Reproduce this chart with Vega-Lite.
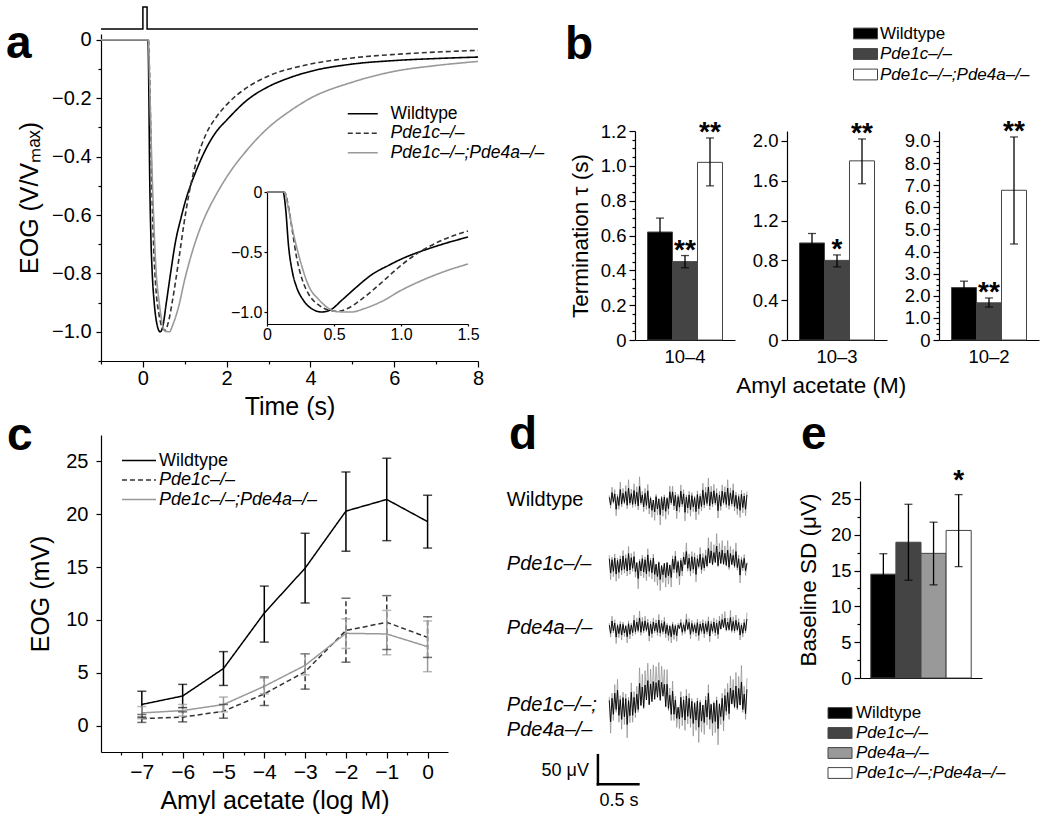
{
"$schema": "https://vega.github.io/schema/vega-lite/v6.json",
"padding": {"left": 6, "top": 4, "right": 5, "bottom": 5},
"background": "white",
"config": {
  "font": "Liberation Sans",
  "view": {"stroke": null},
  "axis": {"grid": false, "domainColor": "#000", "domainWidth": 1.2, "tickColor": "#000", "tickWidth": 1.2, "labelColor": "#000", "titleColor": "#000", "titleFontWeight": "normal", "labelFont": "Liberation Sans", "titleFont": "Liberation Sans", "labelOverlap": false, "labelFlush": false},
  "legend": {"labelFont": "Liberation Sans", "labelColor": "#000"},
  "title": {"anchor": "start", "frame": "group", "fontSize": 46, "fontWeight": "bold", "font": "Liberation Sans", "baseline": "alphabetic", "offset": 0, "color": "#000"},
  "text": {"font": "Liberation Sans", "color": "#000"}
},
"datasets": {
  "eog": [
    {"g":"Wildtype","t":-1,"v":0},{"g":"Wildtype","t":0,"v":0},{"g":"Wildtype","t":0.12,"v":0},{"g":"Wildtype","t":0.14,"v":-0.15},{"g":"Wildtype","t":0.16,"v":-0.44},{"g":"Wildtype","t":0.19,"v":-0.67},{"g":"Wildtype","t":0.22,"v":-0.79},{"g":"Wildtype","t":0.27,"v":-0.9},{"g":"Wildtype","t":0.33,"v":-0.97},{"g":"Wildtype","t":0.41,"v":-1.0},{"g":"Wildtype","t":0.47,"v":-0.985},{"g":"Wildtype","t":0.56,"v":-0.9},{"g":"Wildtype","t":0.66,"v":-0.8},{"g":"Wildtype","t":0.78,"v":-0.69},{"g":"Wildtype","t":0.91,"v":-0.61},{"g":"Wildtype","t":1.03,"v":-0.545},{"g":"Wildtype","t":1.16,"v":-0.49},{"g":"Wildtype","t":1.31,"v":-0.435},{"g":"Wildtype","t":1.5,"v":-0.375},{"g":"Wildtype","t":1.75,"v":-0.315},{"g":"Wildtype","t":2,"v":-0.275},{"g":"Wildtype","t":2.5,"v":-0.205},{"g":"Wildtype","t":3,"v":-0.16},{"g":"Wildtype","t":3.5,"v":-0.13},{"g":"Wildtype","t":4,"v":-0.108},{"g":"Wildtype","t":5,"v":-0.083},{"g":"Wildtype","t":6,"v":-0.071},{"g":"Wildtype","t":7,"v":-0.064},{"g":"Wildtype","t":8,"v":-0.059},
    {"g":"Pde1c–/–","t":-1,"v":0},{"g":"Pde1c–/–","t":0,"v":0},{"g":"Pde1c–/–","t":0.13,"v":0},{"g":"Pde1c–/–","t":0.16,"v":-0.12},{"g":"Pde1c–/–","t":0.19,"v":-0.33},{"g":"Pde1c–/–","t":0.22,"v":-0.54},{"g":"Pde1c–/–","t":0.26,"v":-0.72},{"g":"Pde1c–/–","t":0.31,"v":-0.85},{"g":"Pde1c–/–","t":0.39,"v":-0.945},{"g":"Pde1c–/–","t":0.46,"v":-0.985},{"g":"Pde1c–/–","t":0.53,"v":-0.995},{"g":"Pde1c–/–","t":0.61,"v":-0.966},{"g":"Pde1c–/–","t":0.71,"v":-0.89},{"g":"Pde1c–/–","t":0.86,"v":-0.75},{"g":"Pde1c–/–","t":0.98,"v":-0.63},{"g":"Pde1c–/–","t":1.11,"v":-0.52},{"g":"Pde1c–/–","t":1.31,"v":-0.4},{"g":"Pde1c–/–","t":1.5,"v":-0.325},{"g":"Pde1c–/–","t":1.75,"v":-0.265},{"g":"Pde1c–/–","t":2,"v":-0.222},{"g":"Pde1c–/–","t":2.5,"v":-0.162},{"g":"Pde1c–/–","t":3,"v":-0.124},{"g":"Pde1c–/–","t":4,"v":-0.083},{"g":"Pde1c–/–","t":5,"v":-0.062},{"g":"Pde1c–/–","t":6,"v":-0.05},{"g":"Pde1c–/–","t":7,"v":-0.042},{"g":"Pde1c–/–","t":8,"v":-0.036},
    {"g":"Pde1c–/–;Pde4a–/–","t":-1,"v":0},{"g":"Pde1c–/–;Pde4a–/–","t":0,"v":0},{"g":"Pde1c–/–;Pde4a–/–","t":0.13,"v":0},{"g":"Pde1c–/–;Pde4a–/–","t":0.16,"v":-0.14},{"g":"Pde1c–/–;Pde4a–/–","t":0.2,"v":-0.36},{"g":"Pde1c–/–;Pde4a–/–","t":0.25,"v":-0.58},{"g":"Pde1c–/–;Pde4a–/–","t":0.31,"v":-0.78},{"g":"Pde1c–/–;Pde4a–/–","t":0.39,"v":-0.9},{"g":"Pde1c–/–;Pde4a–/–","t":0.46,"v":-0.97},{"g":"Pde1c–/–;Pde4a–/–","t":0.53,"v":-0.998},{"g":"Pde1c–/–;Pde4a–/–","t":0.63,"v":-1.0},{"g":"Pde1c–/–;Pde4a–/–","t":0.73,"v":-0.97},{"g":"Pde1c–/–;Pde4a–/–","t":0.86,"v":-0.91},{"g":"Pde1c–/–;Pde4a–/–","t":1.0,"v":-0.82},{"g":"Pde1c–/–;Pde4a–/–","t":1.16,"v":-0.735},{"g":"Pde1c–/–;Pde4a–/–","t":1.33,"v":-0.66},{"g":"Pde1c–/–;Pde4a–/–","t":1.5,"v":-0.6},{"g":"Pde1c–/–;Pde4a–/–","t":1.75,"v":-0.53},{"g":"Pde1c–/–;Pde4a–/–","t":2,"v":-0.47},{"g":"Pde1c–/–;Pde4a–/–","t":2.5,"v":-0.375},{"g":"Pde1c–/–;Pde4a–/–","t":3,"v":-0.3},{"g":"Pde1c–/–;Pde4a–/–","t":3.5,"v":-0.245},{"g":"Pde1c–/–;Pde4a–/–","t":4,"v":-0.2},{"g":"Pde1c–/–;Pde4a–/–","t":5,"v":-0.145},{"g":"Pde1c–/–;Pde4a–/–","t":6,"v":-0.108},{"g":"Pde1c–/–;Pde4a–/–","t":7,"v":-0.088},{"g":"Pde1c–/–;Pde4a–/–","t":8,"v":-0.074}
  ],
  "tau": [
    {"c":"10–4","g":"Wildtype","m":0.62,"lo":0.54,"hi":0.70,"sig":""},
    {"c":"10–4","g":"Pde1c–/–","m":0.45,"lo":0.415,"hi":0.485,"sig":"**"},
    {"c":"10–4","g":"Pde1c–/–;Pde4a–/–","m":1.02,"lo":0.885,"hi":1.16,"sig":"**"},
    {"c":"10–3","g":"Wildtype","m":0.975,"lo":0.88,"hi":1.07,"sig":""},
    {"c":"10–3","g":"Pde1c–/–","m":0.80,"lo":0.735,"hi":0.855,"sig":"*"},
    {"c":"10–3","g":"Pde1c–/–;Pde4a–/–","m":1.80,"lo":1.57,"hi":2.02,"sig":"**"},
    {"c":"10–2","g":"Wildtype","m":2.37,"lo":2.08,"hi":2.66,"sig":""},
    {"c":"10–2","g":"Pde1c–/–","m":1.68,"lo":1.49,"hi":1.9,"sig":"**"},
    {"c":"10–2","g":"Pde1c–/–;Pde4a–/–","m":6.77,"lo":4.34,"hi":9.18,"sig":"**"}
  ],
  "dr": [
    {"g":"Wildtype","x":-7,"m":2.0,"lo":0.8,"hi":3.25},{"g":"Wildtype","x":-6,"m":2.8,"lo":1.7,"hi":3.9},{"g":"Wildtype","x":-5,"m":5.4,"lo":3.8,"hi":7.0},{"g":"Wildtype","x":-4,"m":10.65,"lo":7.9,"hi":13.2},{"g":"Wildtype","x":-3,"m":14.9,"lo":11.6,"hi":18.2},{"g":"Wildtype","x":-2,"m":20.3,"lo":16.5,"hi":24.0},{"g":"Wildtype","x":-1,"m":21.4,"lo":17.5,"hi":25.3},{"g":"Wildtype","x":0,"m":19.3,"lo":16.8,"hi":21.8},
    {"g":"Pde1c–/–","x":-7,"m":0.66,"lo":0.3,"hi":1.05},{"g":"Pde1c–/–","x":-6,"m":0.8,"lo":0.35,"hi":1.3},{"g":"Pde1c–/–","x":-5,"m":1.36,"lo":0.7,"hi":2.0},{"g":"Pde1c–/–","x":-4,"m":3.0,"lo":1.9,"hi":4.6},{"g":"Pde1c–/–","x":-3,"m":5.1,"lo":3.45,"hi":6.8},{"g":"Pde1c–/–","x":-2,"m":9.0,"lo":6.0,"hi":12.05},{"g":"Pde1c–/–","x":-1,"m":9.77,"lo":7.2,"hi":12.3},{"g":"Pde1c–/–","x":0,"m":8.35,"lo":6.45,"hi":10.3},
    {"g":"Pde1c–/–;Pde4a–/–","x":-7,"m":1.2,"lo":0.65,"hi":1.8},{"g":"Pde1c–/–;Pde4a–/–","x":-6,"m":1.42,"lo":0.9,"hi":2.0},{"g":"Pde1c–/–;Pde4a–/–","x":-5,"m":1.99,"lo":1.3,"hi":2.7},{"g":"Pde1c–/–;Pde4a–/–","x":-4,"m":3.72,"lo":3.0,"hi":4.5},{"g":"Pde1c–/–;Pde4a–/–","x":-3,"m":5.7,"lo":4.8,"hi":6.8},{"g":"Pde1c–/–;Pde4a–/–","x":-2,"m":8.73,"lo":7.3,"hi":10.1},{"g":"Pde1c–/–;Pde4a–/–","x":-1,"m":8.67,"lo":6.7,"hi":10.9},{"g":"Pde1c–/–;Pde4a–/–","x":0,"m":7.47,"lo":5.1,"hi":9.9}
  ],
  "sd": [
    {"g":"Wildtype","m":14.5,"lo":11.6,"hi":17.35,"sig":""},
    {"g":"Pde1c–/–","m":18.95,"lo":13.65,"hi":24.25,"sig":""},
    {"g":"Pde4a–/–","m":17.4,"lo":13.0,"hi":21.75,"sig":""},
    {"g":"Pde1c–/–;Pde4a–/–","m":20.6,"lo":15.55,"hi":25.6,"sig":"*"}
  ],
  "nWT": [
    {"t":0,"v":8},{"t":17,"v":-14},{"t":34,"v":22},{"t":51,"v":-6},{"t":68,"v":18},{"t":85,"v":-27},{"t":102,"v":10},{"t":119,"v":-16},{"t":136,"v":31},{"t":153,"v":-12},
    {"t":170,"v":20},{"t":187,"v":-7},{"t":204,"v":25},{"t":221,"v":-15},{"t":238,"v":35},{"t":255,"v":-9},{"t":272,"v":19},{"t":289,"v":-13},{"t":306,"v":28},{"t":323,"v":-11},
    {"t":340,"v":23},{"t":357,"v":-17},{"t":374,"v":40},{"t":391,"v":-8},{"t":408,"v":15},{"t":425,"v":-20},{"t":442,"v":20},{"t":459,"v":-16},{"t":476,"v":27},{"t":493,"v":-24},
    {"t":510,"v":6},{"t":527,"v":-30},{"t":544,"v":0},{"t":561,"v":-35},{"t":578,"v":10},{"t":595,"v":-26},{"t":612,"v":3},{"t":629,"v":-43},{"t":646,"v":7},{"t":663,"v":-28},
    {"t":680,"v":9},{"t":697,"v":-33},{"t":714,"v":5},{"t":731,"v":-25},{"t":748,"v":24},{"t":765,"v":-8},{"t":782,"v":24},{"t":799,"v":-17},{"t":816,"v":14},{"t":833,"v":-32},
    {"t":850,"v":10},{"t":867,"v":-21},{"t":884,"v":26},{"t":901,"v":-12},{"t":918,"v":18},{"t":935,"v":-36},{"t":952,"v":9},{"t":969,"v":-23},{"t":986,"v":15},{"t":1003,"v":-28},
    {"t":1020,"v":13},{"t":1037,"v":-20},{"t":1054,"v":7},{"t":1071,"v":-34},{"t":1088,"v":16},{"t":1105,"v":-25},{"t":1122,"v":11},{"t":1139,"v":-19},{"t":1156,"v":29},{"t":1173,"v":-14},
    {"t":1190,"v":22},{"t":1207,"v":-10},{"t":1224,"v":38},{"t":1241,"v":-17},{"t":1258,"v":24},{"t":1275,"v":-12},{"t":1292,"v":27},{"t":1309,"v":-9},{"t":1326,"v":20},{"t":1343,"v":-31},
    {"t":1360,"v":15},{"t":1377,"v":-18},{"t":1394,"v":26},{"t":1411,"v":-8},{"t":1428,"v":23},{"t":1445,"v":-13},{"t":1462,"v":35},{"t":1479,"v":-16},{"t":1496,"v":21},{"t":1513,"v":-11},
    {"t":1530,"v":28},{"t":1547,"v":-19},{"t":1564,"v":14},{"t":1581,"v":-25},{"t":1598,"v":10},{"t":1615,"v":-30},{"t":1632,"v":17},{"t":1649,"v":-22},{"t":1666,"v":12},{"t":1683,"v":-27},
    {"t":1700,"v":15}
  ],
  "nP1c": [
    {"t":0,"v":15},{"t":17,"v":-27},{"t":34,"v":12},{"t":51,"v":-22},{"t":68,"v":17},{"t":85,"v":-30},{"t":102,"v":10},{"t":119,"v":-25},{"t":136,"v":14},{"t":153,"v":-19},
    {"t":170,"v":23},{"t":187,"v":-16},{"t":204,"v":16},{"t":221,"v":-21},{"t":238,"v":30},{"t":255,"v":-18},{"t":272,"v":18},{"t":289,"v":-13},{"t":306,"v":21},{"t":323,"v":-23},
    {"t":340,"v":3},{"t":357,"v":-43},{"t":374,"v":8},{"t":391,"v":-21},{"t":408,"v":15},{"t":425,"v":-24},{"t":442,"v":12},{"t":459,"v":-29},{"t":476,"v":26},{"t":493,"v":-22},
    {"t":510,"v":10},{"t":527,"v":-26},{"t":544,"v":17},{"t":561,"v":-31},{"t":578,"v":-1},{"t":595,"v":-37},{"t":612,"v":4},{"t":629,"v":-46},{"t":646,"v":-5},{"t":663,"v":-32},
    {"t":680,"v":1},{"t":697,"v":-40},{"t":714,"v":3},{"t":731,"v":-35},{"t":748,"v":-3},{"t":765,"v":-40},{"t":782,"v":14},{"t":799,"v":-16},{"t":816,"v":22},{"t":833,"v":-25},
    {"t":850,"v":6},{"t":867,"v":-36},{"t":884,"v":10},{"t":901,"v":-21},{"t":918,"v":20},{"t":935,"v":-2},{"t":952,"v":36},{"t":969,"v":-13},{"t":986,"v":17},{"t":1003,"v":-21},
    {"t":1020,"v":21},{"t":1037,"v":-16},{"t":1054,"v":19},{"t":1071,"v":-31},{"t":1088,"v":15},{"t":1105,"v":-8},{"t":1122,"v":28},{"t":1139,"v":-17},{"t":1156,"v":18},{"t":1173,"v":-12},
    {"t":1190,"v":24},{"t":1207,"v":-6},{"t":1224,"v":45},{"t":1241,"v":2},{"t":1258,"v":38},{"t":1275,"v":-2},{"t":1292,"v":33},{"t":1309,"v":4},{"t":1326,"v":52},{"t":1343,"v":-5},
    {"t":1360,"v":35},{"t":1377,"v":1},{"t":1394,"v":40},{"t":1411,"v":-1},{"t":1428,"v":31},{"t":1445,"v":-4},{"t":1462,"v":40},{"t":1479,"v":-10},{"t":1496,"v":30},{"t":1513,"v":-2},
    {"t":1530,"v":25},{"t":1547,"v":-7},{"t":1564,"v":36},{"t":1581,"v":-11},{"t":1598,"v":15},{"t":1615,"v":-33},{"t":1632,"v":12},{"t":1649,"v":-12},{"t":1666,"v":16},{"t":1683,"v":-20},
    {"t":1700,"v":2}
  ],
  "nP4a": [
    {"t":0,"v":8},{"t":17,"v":-16},{"t":34,"v":20},{"t":51,"v":-9},{"t":68,"v":14},{"t":85,"v":-27},{"t":102,"v":7},{"t":119,"v":-17},{"t":136,"v":11},{"t":153,"v":-21},
    {"t":170,"v":10},{"t":187,"v":-15},{"t":204,"v":5},{"t":221,"v":-26},{"t":238,"v":12},{"t":255,"v":-19},{"t":272,"v":8},{"t":289,"v":-14},{"t":306,"v":22},{"t":323,"v":-11},
    {"t":340,"v":17},{"t":357,"v":-8},{"t":374,"v":29},{"t":391,"v":-13},{"t":408,"v":18},{"t":425,"v":-9},{"t":442,"v":20},{"t":459,"v":-7},{"t":476,"v":15},{"t":493,"v":-23},
    {"t":510,"v":11},{"t":527,"v":-17},{"t":544,"v":17},{"t":561,"v":-9},{"t":578,"v":14},{"t":595,"v":-13},{"t":612,"v":23},{"t":629,"v":-15},{"t":646,"v":13},{"t":663,"v":-11},
    {"t":680,"v":18},{"t":697,"v":-17},{"t":714,"v":8},{"t":731,"v":-22},{"t":748,"v":5},{"t":765,"v":-26},{"t":782,"v":10},{"t":799,"v":-20},{"t":816,"v":6},{"t":833,"v":-23},
    {"t":850,"v":8},{"t":867,"v":-2},{"t":884,"v":15},{"t":901,"v":-13},{"t":918,"v":9},{"t":935,"v":-10},{"t":952,"v":24},{"t":969,"v":-4},{"t":986,"v":16},{"t":1003,"v":-19},
    {"t":1020,"v":13},{"t":1037,"v":-11},{"t":1054,"v":9},{"t":1071,"v":-15},{"t":1088,"v":15},{"t":1105,"v":-22},{"t":1122,"v":11},{"t":1139,"v":-10},{"t":1156,"v":14},{"t":1173,"v":-17},
    {"t":1190,"v":12},{"t":1207,"v":-11},{"t":1224,"v":19},{"t":1241,"v":-24},{"t":1258,"v":12},{"t":1275,"v":-10},{"t":1292,"v":17},{"t":1309,"v":-14},{"t":1326,"v":14},{"t":1343,"v":-19},
    {"t":1360,"v":20},{"t":1377,"v":-3},{"t":1394,"v":24},{"t":1411,"v":1},{"t":1428,"v":28},{"t":1445,"v":-6},{"t":1462,"v":17},{"t":1479,"v":-5},{"t":1496,"v":30},{"t":1513,"v":-8},
    {"t":1530,"v":19},{"t":1547,"v":-9},{"t":1564,"v":22},{"t":1581,"v":-6},{"t":1598,"v":16},{"t":1615,"v":-21},{"t":1632,"v":8},{"t":1649,"v":-16},{"t":1666,"v":15},{"t":1683,"v":-9},
    {"t":1700,"v":26}
  ],
  "nDKO": [
    {"t":0,"v":15},{"t":17,"v":-48},{"t":34,"v":21},{"t":51,"v":-26},{"t":68,"v":36},{"t":85,"v":-12},{"t":102,"v":45},{"t":119,"v":-29},{"t":136,"v":17},{"t":153,"v":-41},
    {"t":170,"v":23},{"t":187,"v":-33},{"t":204,"v":20},{"t":221,"v":-56},{"t":238,"v":14},{"t":255,"v":-30},{"t":272,"v":39},{"t":289,"v":-29},{"t":306,"v":24},{"t":323,"v":-21},
    {"t":340,"v":33},{"t":357,"v":-12},{"t":374,"v":65},{"t":391,"v":0},{"t":408,"v":54},{"t":425,"v":-6},{"t":442,"v":60},{"t":459,"v":16},{"t":476,"v":73},{"t":493,"v":2},
    {"t":510,"v":63},{"t":527,"v":11},{"t":544,"v":70},{"t":561,"v":18},{"t":578,"v":67},{"t":595,"v":24},{"t":612,"v":74},{"t":629,"v":15},{"t":646,"v":68},{"t":663,"v":27},
    {"t":680,"v":62},{"t":697,"v":-3},{"t":714,"v":62},{"t":731,"v":-9},{"t":748,"v":30},{"t":765,"v":-26},{"t":782,"v":42},{"t":799,"v":-26},{"t":816,"v":16},{"t":833,"v":-38},
    {"t":850,"v":-5},{"t":867,"v":-40},{"t":884,"v":24},{"t":901,"v":-35},{"t":918,"v":16},{"t":935,"v":-43},{"t":952,"v":28},{"t":969,"v":-32},{"t":986,"v":21},{"t":1003,"v":-38},
    {"t":1020,"v":12},{"t":1037,"v":-53},{"t":1054,"v":6},{"t":1071,"v":-43},{"t":1088,"v":13},{"t":1105,"v":-64},{"t":1122,"v":9},{"t":1139,"v":-46},{"t":1156,"v":1},{"t":1173,"v":-50},
    {"t":1190,"v":16},{"t":1207,"v":-34},{"t":1224,"v":36},{"t":1241,"v":-41},{"t":1258,"v":3},{"t":1275,"v":-52},{"t":1292,"v":7},{"t":1309,"v":-47},{"t":1326,"v":15},{"t":1343,"v":-68},
    {"t":1360,"v":4},{"t":1377,"v":-33},{"t":1394,"v":21},{"t":1411,"v":-44},{"t":1428,"v":29},{"t":1445,"v":-17},{"t":1462,"v":38},{"t":1479,"v":-24},{"t":1496,"v":51},{"t":1513,"v":4},
    {"t":1530,"v":45},{"t":1547,"v":-5},{"t":1564,"v":57},{"t":1581,"v":-8},{"t":1598,"v":50},{"t":1615,"v":1},{"t":1632,"v":69},{"t":1649,"v":-12},{"t":1666,"v":33},{"t":1683,"v":-24},
    {"t":1700,"v":47}
  ]
},
"spacing": -7,
"resolve": {"scale": {"color": "independent", "strokeDash": "independent"}},
"vconcat": [
 {
  "spacing": 20,
  "resolve": {"scale": {"color": "independent", "strokeDash": "independent"}},
  "hconcat": [
   {
    "title": {"text": "a", "dx": -95, "dy": 68},
    "width": 377, "height": 327,
    "resolve": {"scale": {"x": "independent", "y": "independent"}},
    "layer": [
     {
      "data": {"values": [{"t":-1,"s":0,"o":0},{"t":0,"s":0,"o":1},{"t":0,"s":1,"o":2},{"t":0.1,"s":1,"o":3},{"t":0.1,"s":0,"o":4},{"t":8,"s":0,"o":5}]},
      "mark": {"type": "line", "color": "#000", "strokeWidth": 1.5},
      "encoding": {
        "x": {"field": "t", "type": "quantitative", "scale": {"domain": [-1, 8], "nice": false, "zero": false}, "axis": null},
        "y": {"field": "s", "type": "quantitative", "scale": {"domain": [0, 1], "range": [-5, -27], "nice": false, "zero": false}, "axis": null},
        "order": {"field": "o", "type": "quantitative"}
      }
     },
     {
      "data": {"name": "eog"},
      "mark": {"type": "line", "strokeWidth": 1.6, "interpolate": "monotone"},
      "encoding": {
        "x": {"field": "t", "type": "quantitative", "scale": {"domain": [-1, 8], "nice": false, "zero": false},
              "axis": {"values": [-1,0,1,2,3,4,5,6,7,8], "labelOverlap": false, "labelExpr": "datum.value % 2 == 0 ? format(datum.value, 'd') : ''", "tickSize": {"condition": {"test": "datum.value % 2 != 0", "value": 3}, "value": 6}, "title": "Time (s)", "titleFontSize": 25, "labelFontSize": 20, "labelPadding": 1, "titlePadding": 6}},
        "y": {"field": "v", "type": "quantitative", "scale": {"domain": [-1.1, 0.02], "nice": false, "zero": false},
              "axis": {"values": [0,-0.1,-0.2,-0.3,-0.4,-0.5,-0.6,-0.7,-0.8,-0.9,-1.0,-1.1], "labelOverlap": false, "labelExpr": "abs(round(datum.value*10)) % 2 == 1 ? '' : (datum.value == 0 ? '0' : format(datum.value, '.1f'))", "tickSize": {"condition": {"test": "abs(round(datum.value*10)) % 2 == 1", "value": 3}, "value": 5}, "title": "EOG (V/Vₘₐₓ)", "titleFontSize": 25, "labelFontSize": 20, "labelPadding": 5, "titlePadding": 9}},
        "color": {"field": "g", "type": "nominal", "scale": {"domain": ["Wildtype","Pde1c–/–","Pde1c–/–;Pde4a–/–"], "range": ["#000000","#333333","#999999"]},
                  "legend": {"orient": "none", "legendX": 253, "legendY": 71, "title": null, "symbolType": "M-3,0H3", "symbolSize": 100, "symbolStrokeWidth": 1.5, "labelFontSize": 17.5, "labelOffset": 19, "rowPadding": 0.5, "labelLimit": 300, "encode": {"labels": {"update": {"fontStyle": {"signal": "datum.label == 'Wildtype' ? 'normal' : 'italic'"}}}}}},
        "strokeDash": {"field": "g", "type": "nominal", "scale": {"domain": ["Wildtype","Pde1c–/–","Pde1c–/–;Pde4a–/–"], "range": [[1,0],[5,3],[1,0]]},
                  "legend": {"orient": "none", "legendX": 253, "legendY": 71, "title": null, "symbolType": "M-3,0H3", "symbolSize": 100, "symbolStrokeWidth": 1.5, "labelFontSize": 17.5, "labelOffset": 19, "rowPadding": 0.5, "labelLimit": 300, "encode": {"labels": {"update": {"fontStyle": {"signal": "datum.label == 'Wildtype' ? 'normal' : 'italic'"}}}}}}
      }
     },
     {
      "data": {"name": "eog"},
      "transform": [{"filter": "datum.t >= 0 && datum.t <= 1.5"}],
      "mark": {"type": "line", "strokeWidth": 1.6, "interpolate": "monotone"},
      "encoding": {
        "x": {"field": "t", "type": "quantitative", "scale": {"domain": [0, 1.5], "range": [166, 367], "nice": false, "zero": false},
              "axis": {"orient": "bottom", "offset": -37, "values": [0,0.5,1,1.5], "labelOverlap": false, "labelExpr": "datum.value == 0 ? '0' : format(datum.value, '.1f')", "title": null, "labelFontSize": 16, "tickSize": 2, "labelPadding": 0}},
        "y": {"field": "v", "type": "quantitative", "scale": {"domain": [-1.1, 0], "range": [290, 158], "nice": false, "zero": false},
              "axis": {"orient": "left", "offset": -166, "values": [0,-0.5,-1], "labelOverlap": false, "labelExpr": "datum.value == 0 ? '0' : format(datum.value, '.1f')", "title": null, "labelFontSize": 16, "tickSize": 3, "labelPadding": 2}},
        "color": {"field": "g", "type": "nominal", "scale": {"domain": ["Wildtype","Pde1c–/–","Pde1c–/–;Pde4a–/–"], "range": ["#000000","#333333","#999999"]}, "legend": null},
        "strokeDash": {"field": "g", "type": "nominal", "scale": {"domain": ["Wildtype","Pde1c–/–","Pde1c–/–;Pde4a–/–"], "range": [[1,0],[5,3],[1,0]]}, "legend": null}
      }
     }
    ]
   },
   {
    "spacing": 0,
    "vconcat": [
     {"width": 10, "height": 83, "data": {"values": []}, "mark": "point", "title": {"text": "b", "dx": -70, "dy": 39}},
     {
      "spacing": 17,
      "title": {"text": "Amyl acetate (M)", "orient": "bottom", "anchor": "middle", "frame": "bounds", "fontSize": 22.5, "fontWeight": "normal", "baseline": "top", "offset": 9, "dx": 17},
      "hconcat": [
       {
        "width": 100, "height": 209,
        "data": {"name": "tau"},
        "transform": [{"filter": "datum.c == '10–4'"}],
        "resolve": {"scale": {"y": "independent"}},
        "encoding": {
          "x": {"field": "c", "type": "nominal", "scale": {"paddingInner": 0, "paddingOuter": 0.1667}, "axis": {"title": null, "labelAngle": 0, "ticks": false, "labelFontSize": 18.5, "labelPadding": 7}},
          "xOffset": {"field": "g", "type": "nominal", "sort": ["Wildtype","Pde1c–/–","Pde1c–/–;Pde4a–/–"], "scale": {"paddingInner": 0, "paddingOuter": 0}}
        },
        "layer": [
         {"mark": {"type": "bar", "stroke": "#444444", "strokeWidth": 1},
          "encoding": {
            "y": {"field": "m", "type": "quantitative", "scale": {"domain": [0, 1.2], "nice": false},
                  "axis": {"orient": "left", "values": [0,0.2,0.4,0.6,0.8,1,1.2], "labelOverlap": false, "labelExpr": "datum.value == 0 ? '0' : format(datum.value, '.1f')", "tickSize": 6, "title": "Termination τ (s)", "titleFontSize": 22.5, "labelFontSize": 18.5, "labelPadding": 3, "titlePadding": 8}},
            "color": {"field": "g", "type": "nominal", "scale": {"domain": ["Wildtype","Pde1c–/–","Pde1c–/–;Pde4a–/–"], "range": ["#000000","#444444","#ffffff"]},
                      "legend": {"orient": "none", "legendX": 222, "legendY": -9, "title": null, "symbolType": "M-2,-0.9H2V0.9H-2Z", "symbolSize": 144, "symbolStrokeColor": "#444444", "symbolStrokeWidth": 1, "labelFontSize": 17, "labelOffset": 6, "rowPadding": 2.5, "labelLimit": 300, "encode": {"symbols": {"update": {"stroke": {"value": "#444444"}, "strokeWidth": {"value": 1}}}, "labels": {"update": {"fontStyle": {"signal": "datum.label == 'Wildtype' ? 'normal' : 'italic'"}}}}}}
          }},
         {"mark": {"type": "rule", "color": "#000", "strokeWidth": 1.3}, "encoding": {"y": {"field": "lo", "type": "quantitative", "scale": {"domain": [0, 1.2], "nice": false}, "axis": {"orient": "left", "values": [0.05,0.1,0.15,0.25,0.3,0.35,0.45,0.5,0.55,0.65,0.7,0.75,0.85,0.9,0.95,1.05,1.1,1.15], "labels": false, "domain": false, "tickSize": 3, "title": null}}, "y2": {"field": "hi"}}},
         {"mark": {"type": "tick", "color": "#000", "size": 8, "thickness": 1.3, "orient": "horizontal"}, "encoding": {"y": {"field": "hi", "type": "quantitative", "scale": {"domain": [0, 1.2], "nice": false}, "axis": null}}},
         {"mark": {"type": "tick", "color": "#000", "size": 8, "thickness": 1.3, "orient": "horizontal"}, "encoding": {"y": {"field": "lo", "type": "quantitative", "scale": {"domain": [0, 1.2], "nice": false}, "axis": null}}},
         {"mark": {"type": "text", "fontSize": 28, "fontWeight": "bold", "baseline": "alphabetic", "dy": 3}, "encoding": {"y": {"field": "hi", "type": "quantitative", "scale": {"domain": [0, 1.2], "nice": false}, "axis": null}, "text": {"field": "sig"}}}
        ]
       },
       {
        "width": 100, "height": 209,
        "data": {"name": "tau"},
        "transform": [{"filter": "datum.c == '10–3'"}],
        "encoding": {
          "x": {"field": "c", "type": "nominal", "scale": {"paddingInner": 0, "paddingOuter": 0.1667}, "axis": {"title": null, "labelAngle": 0, "ticks": false, "labelFontSize": 18.5, "labelPadding": 7}},
          "xOffset": {"field": "g", "type": "nominal", "sort": ["Wildtype","Pde1c–/–","Pde1c–/–;Pde4a–/–"], "scale": {"paddingInner": 0, "paddingOuter": 0}}
        },
        "layer": [
         {"mark": {"type": "bar", "stroke": "#444444", "strokeWidth": 1},
          "encoding": {
            "y": {"field": "m", "type": "quantitative", "scale": {"domain": [0, 2.1], "nice": false},
                  "axis": {"values": [0,0.1,0.2,0.3,0.4,0.5,0.6,0.7,0.8,0.9,1,1.1,1.2,1.3,1.4,1.5,1.6,1.7,1.8,1.9,2], "labelOverlap": false, "labelExpr": "round(datum.value*10) % 4 == 0 ? (datum.value == 0 ? '0' : format(datum.value, '.1f')) : ''", "tickSize": {"condition": {"test": "round(datum.value*10) % 4 != 0", "value": 3}, "value": 6}, "title": null, "labelFontSize": 18.5, "labelPadding": 3}},
            "color": {"field": "g", "type": "nominal", "scale": {"domain": ["Wildtype","Pde1c–/–","Pde1c–/–;Pde4a–/–"], "range": ["#000000","#444444","#ffffff"]},
                      "legend": {"orient": "none", "legendX": 222, "legendY": -9, "title": null, "symbolType": "M-2,-0.9H2V0.9H-2Z", "symbolSize": 144, "symbolStrokeColor": "#444444", "symbolStrokeWidth": 1, "labelFontSize": 17, "labelOffset": 6, "rowPadding": 2.5, "labelLimit": 300, "encode": {"symbols": {"update": {"stroke": {"value": "#444444"}, "strokeWidth": {"value": 1}}}, "labels": {"update": {"fontStyle": {"signal": "datum.label == 'Wildtype' ? 'normal' : 'italic'"}}}}}}
          }},
         {"mark": {"type": "rule", "color": "#000", "strokeWidth": 1.3}, "encoding": {"y": {"field": "lo", "type": "quantitative", "scale": {"domain": [0, 2.1], "nice": false}}, "y2": {"field": "hi"}}},
         {"mark": {"type": "tick", "color": "#000", "size": 8, "thickness": 1.3, "orient": "horizontal"}, "encoding": {"y": {"field": "hi", "type": "quantitative", "scale": {"domain": [0, 2.1], "nice": false}}}},
         {"mark": {"type": "tick", "color": "#000", "size": 8, "thickness": 1.3, "orient": "horizontal"}, "encoding": {"y": {"field": "lo", "type": "quantitative", "scale": {"domain": [0, 2.1], "nice": false}}}},
         {"mark": {"type": "text", "fontSize": 28, "fontWeight": "bold", "baseline": "alphabetic", "dy": 3}, "encoding": {"y": {"field": "hi", "type": "quantitative", "scale": {"domain": [0, 2.1], "nice": false}}, "text": {"field": "sig"}}}
        ]
       },
       {
        "width": 100, "height": 209,
        "data": {"name": "tau"},
        "transform": [{"filter": "datum.c == '10–2'"}],
        "resolve": {"scale": {"y": "independent"}},
        "encoding": {
          "x": {"field": "c", "type": "nominal", "scale": {"paddingInner": 0, "paddingOuter": 0.1667}, "axis": {"title": null, "labelAngle": 0, "ticks": false, "labelFontSize": 18.5, "labelPadding": 7}},
          "xOffset": {"field": "g", "type": "nominal", "sort": ["Wildtype","Pde1c–/–","Pde1c–/–;Pde4a–/–"], "scale": {"paddingInner": 0, "paddingOuter": 0}}
        },
        "layer": [
         {"mark": {"type": "bar", "stroke": "#444444", "strokeWidth": 1},
          "encoding": {
            "y": {"field": "m", "type": "quantitative", "scale": {"domain": [0, 9.45], "nice": false},
                  "axis": {"orient": "left", "values": [0,1,2,3,4,5,6,7,8,9], "labelOverlap": false, "labelExpr": "datum.value == 0 ? '0' : format(datum.value, '.1f')", "tickSize": 6, "title": null, "labelFontSize": 18.5, "labelPadding": 3}},
            "color": {"field": "g", "type": "nominal", "scale": {"domain": ["Wildtype","Pde1c–/–","Pde1c–/–;Pde4a–/–"], "range": ["#000000","#444444","#ffffff"]},
                      "legend": {"orient": "none", "legendX": 222, "legendY": -9, "title": null, "symbolType": "M-2,-0.9H2V0.9H-2Z", "symbolSize": 144, "symbolStrokeColor": "#444444", "symbolStrokeWidth": 1, "labelFontSize": 17, "labelOffset": 6, "rowPadding": 2.5, "labelLimit": 300, "encode": {"symbols": {"update": {"stroke": {"value": "#444444"}, "strokeWidth": {"value": 1}}}, "labels": {"update": {"fontStyle": {"signal": "datum.label == 'Wildtype' ? 'normal' : 'italic'"}}}}}}
          }},
         {"mark": {"type": "rule", "color": "#000", "strokeWidth": 1.3}, "encoding": {"y": {"field": "lo", "type": "quantitative", "scale": {"domain": [0, 9.45], "nice": false}, "axis": {"orient": "left", "values": [0.25,0.5,0.75,1.25,1.5,1.75,2.25,2.5,2.75,3.25,3.5,3.75,4.25,4.5,4.75,5.25,5.5,5.75,6.25,6.5,6.75,7.25,7.5,7.75,8.25,8.5,8.75], "labels": false, "domain": false, "tickSize": 3, "title": null}}, "y2": {"field": "hi"}}},
         {"mark": {"type": "tick", "color": "#000", "size": 8, "thickness": 1.3, "orient": "horizontal"}, "encoding": {"y": {"field": "hi", "type": "quantitative", "scale": {"domain": [0, 9.45], "nice": false}, "axis": null}}},
         {"mark": {"type": "tick", "color": "#000", "size": 8, "thickness": 1.3, "orient": "horizontal"}, "encoding": {"y": {"field": "lo", "type": "quantitative", "scale": {"domain": [0, 9.45], "nice": false}, "axis": null}}},
         {"mark": {"type": "text", "fontSize": 28, "fontWeight": "bold", "baseline": "alphabetic", "dy": 3}, "encoding": {"y": {"field": "hi", "type": "quantitative", "scale": {"domain": [0, 9.45], "nice": false}, "axis": null}, "text": {"field": "sig"}}}
        ]
       }
      ]
     }
    ]
   }
  ]
 },
 {
  "spacing": 46,
  "resolve": {"scale": {"color": "independent", "strokeDash": "independent"}},
  "hconcat": [
   {
    "title": {"text": "c", "dx": -94, "dy": 29},
    "width": 347, "height": 317,
    "data": {"name": "dr"},
    "encoding": {
      "x": {"field": "x", "type": "quantitative", "scale": {"domain": [-8, 0.5], "nice": false, "zero": false},
            "axis": {"values": [-7.5,-7,-6.5,-6,-5.5,-5,-4.5,-4,-3.5,-3,-2.5,-2,-1.5,-1,-0.5,0], "labelOverlap": false, "labelExpr": "datum.value % 1 == 0 ? format(datum.value, 'd') : ''", "tickSize": {"condition": {"test": "datum.value % 1 != 0", "value": 3}, "value": 6}, "title": "Amyl acetate (log M)", "titleFontSize": 25, "labelFontSize": 21, "labelPadding": 3, "titlePadding": 6}},
      "color": {"field": "g", "type": "nominal", "scale": {"domain": ["Wildtype","Pde1c–/–","Pde1c–/–;Pde4a–/–"], "range": ["#000000","#333333","#999999"]},
                "legend": {"orient": "none", "legendX": 29, "legendY": 16.5, "title": null, "symbolType": "M-3.4,0H3.4", "symbolSize": 100, "symbolStrokeWidth": 1.5, "labelFontSize": 18, "labelOffset": 11, "rowPadding": 1.5, "labelLimit": 300, "encode": {"labels": {"update": {"fontStyle": {"signal": "datum.label == 'Wildtype' ? 'normal' : 'italic'"}}}}}},
      "strokeDash": {"field": "g", "type": "nominal", "scale": {"domain": ["Wildtype","Pde1c–/–","Pde1c–/–;Pde4a–/–"], "range": [[1,0],[5,3],[1,0]]},
                "legend": {"orient": "none", "legendX": 29, "legendY": 16.5, "title": null, "symbolType": "M-3.4,0H3.4", "symbolSize": 100, "symbolStrokeWidth": 1.5, "labelFontSize": 18, "labelOffset": 11, "rowPadding": 1.5, "labelLimit": 300, "encode": {"labels": {"update": {"fontStyle": {"signal": "datum.label == 'Wildtype' ? 'normal' : 'italic'"}}}}}}
    },
    "layer": [
     {"mark": {"type": "line", "strokeWidth": 1.5},
      "encoding": {"y": {"field": "m", "type": "quantitative", "scale": {"domain": [-2.5, 27.5], "nice": false, "zero": false},
        "axis": {"values": [0,2.5,5,7.5,10,12.5,15,17.5,20,22.5,25], "labelOverlap": false, "labelExpr": "datum.value % 5 == 0 ? format(datum.value, 'd') : ''", "tickSize": {"condition": {"test": "datum.value % 5 != 0", "value": 3}, "value": 5}, "title": "EOG (mV)", "titleFontSize": 25, "labelFontSize": 20, "labelPadding": 8, "titlePadding": 12}}}},
     {"mark": {"type": "rule", "strokeWidth": 1.5}, "encoding": {"y": {"field": "lo", "type": "quantitative", "scale": {"domain": [-2.5, 27.5], "nice": false, "zero": false}}, "y2": {"field": "hi"}}},
     {"mark": {"type": "tick", "orient": "horizontal", "size": 9, "thickness": 1.5}, "encoding": {"y": {"field": "hi", "type": "quantitative", "scale": {"domain": [-2.5, 27.5], "nice": false, "zero": false}}}},
     {"mark": {"type": "tick", "orient": "horizontal", "size": 9, "thickness": 1.5}, "encoding": {"y": {"field": "lo", "type": "quantitative", "scale": {"domain": [-2.5, 27.5], "nice": false, "zero": false}}}}
    ]
   },
   {
    "spacing": 0,
    "vconcat": [
     {
      "width": 257, "height": 97,
      "title": {"text": "d", "dx": 15, "dy": 28},
      "resolve": {"scale": {"y": "independent"}},
      "layer": [
       {"data": {"name": "nWT"}, "mark": {"type": "line", "color": "#8c8c8c", "strokeWidth": 0.7},
        "encoding": {"x": {"field": "t", "type": "quantitative", "scale": {"domain": [-1423, 1750], "nice": false, "zero": false}, "axis": null},
                     "y": {"field": "v", "type": "quantitative", "scale": {"domain": [-55, 112], "nice": false, "zero": false}, "axis": null}}},
       {"data": {"name": "nWT"}, "mark": {"type": "line", "color": "#000000", "strokeWidth": 0.9},
        "encoding": {"x": {"field": "t", "type": "quantitative", "axis": null},
                     "y": {"field": "v", "type": "quantitative", "scale": {"domain": [-93.5, 190.4], "nice": false, "zero": false}, "axis": null}}},
       {"data": {"values": [{}]}, "mark": {"type": "text", "text": "Wildtype", "align": "left", "baseline": "middle", "fontSize": 20},
        "encoding": {"x": {"datum": -1265, "type": "quantitative", "axis": null}, "y": {"datum": 0, "type": "quantitative", "scale": {"domain": [-55, 112], "nice": false, "zero": false}, "axis": null}}}
      ]
     },
     {
      "width": 257, "height": 64,
      "resolve": {"scale": {"y": "independent"}},
      "layer": [
       {"data": {"name": "nP1c"}, "mark": {"type": "line", "color": "#8c8c8c", "strokeWidth": 0.7},
        "encoding": {"x": {"field": "t", "type": "quantitative", "scale": {"domain": [-1423, 1750], "nice": false, "zero": false}, "axis": null},
                     "y": {"field": "v", "type": "quantitative", "scale": {"domain": [-57, 53], "nice": false, "zero": false}, "axis": null}}},
       {"data": {"name": "nP1c"}, "mark": {"type": "line", "color": "#000000", "strokeWidth": 0.9},
        "encoding": {"x": {"field": "t", "type": "quantitative", "axis": null},
                     "y": {"field": "v", "type": "quantitative", "scale": {"domain": [-96.9, 90.1], "nice": false, "zero": false}, "axis": null}}},
       {"data": {"values": [{}]}, "mark": {"type": "text", "text": "Pde1c–/–", "align": "left", "baseline": "middle", "fontSize": 20, "fontStyle": "italic"},
        "encoding": {"x": {"datum": -1265, "type": "quantitative", "axis": null}, "y": {"datum": 0, "type": "quantitative", "scale": {"domain": [-57, 53], "nice": false, "zero": false}, "axis": null}}}
      ]
     },
     {
      "width": 257, "height": 64,
      "resolve": {"scale": {"y": "independent"}},
      "layer": [
       {"data": {"name": "nP4a"}, "mark": {"type": "line", "color": "#8c8c8c", "strokeWidth": 0.7},
        "encoding": {"x": {"field": "t", "type": "quantitative", "scale": {"domain": [-1423, 1750], "nice": false, "zero": false}, "axis": null},
                     "y": {"field": "v", "type": "quantitative", "scale": {"domain": [-57, 53], "nice": false, "zero": false}, "axis": null}}},
       {"data": {"name": "nP4a"}, "mark": {"type": "line", "color": "#000000", "strokeWidth": 0.9},
        "encoding": {"x": {"field": "t", "type": "quantitative", "axis": null},
                     "y": {"field": "v", "type": "quantitative", "scale": {"domain": [-96.9, 90.1], "nice": false, "zero": false}, "axis": null}}},
       {"data": {"values": [{}]}, "mark": {"type": "text", "text": "Pde4a–/–", "align": "left", "baseline": "middle", "fontSize": 20, "fontStyle": "italic"},
        "encoding": {"x": {"datum": -1265, "type": "quantitative", "axis": null}, "y": {"datum": 0, "type": "quantitative", "scale": {"domain": [-57, 53], "nice": false, "zero": false}, "axis": null}}}
      ]
     },
     {
      "width": 257, "height": 84,
      "resolve": {"scale": {"y": "independent"}},
      "layer": [
       {"data": {"name": "nDKO"}, "mark": {"type": "line", "color": "#8c8c8c", "strokeWidth": 0.7},
        "encoding": {"x": {"field": "t", "type": "quantitative", "scale": {"domain": [-1423, 1750], "nice": false, "zero": false}, "axis": null},
                     "y": {"field": "v", "type": "quantitative", "scale": {"domain": [-70, 75], "nice": false, "zero": false}, "axis": null}}},
       {"data": {"name": "nDKO"}, "mark": {"type": "line", "color": "#000000", "strokeWidth": 0.9},
        "encoding": {"x": {"field": "t", "type": "quantitative", "axis": null},
                     "y": {"field": "v", "type": "quantitative", "scale": {"domain": [-119, 127.5], "nice": false, "zero": false}, "axis": null}}},
       {"data": {"values": [{}]}, "mark": {"type": "text", "text": ["Pde1c–/–;", "Pde4a–/–"], "lineHeight": 25, "align": "left", "baseline": "middle", "fontSize": 20, "fontStyle": "italic"},
        "encoding": {"x": {"datum": -1265, "type": "quantitative", "axis": null}, "y": {"datum": 0, "type": "quantitative", "scale": {"domain": [-70, 75], "nice": false, "zero": false}, "axis": null}}}
      ]
     },
     {
      "width": 257, "height": 70,
      "layer": [
       {"data": {"values": [{}]}, "mark": {"type": "rule", "color": "#000", "strokeWidth": 2.5, "strokeCap": "square"},
        "encoding": {"x": {"datum": -140, "type": "quantitative", "scale": {"domain": [-1423, 1750], "nice": false, "zero": false}, "axis": null},
                     "y": {"datum": 56, "type": "quantitative", "scale": {"domain": [0, 120], "nice": false, "zero": false}, "axis": null},
                     "y2": {"datum": 106}}},
       {"data": {"values": [{}]}, "mark": {"type": "rule", "color": "#000", "strokeWidth": 2.5, "strokeCap": "square"},
        "encoding": {"x": {"datum": -140, "type": "quantitative", "axis": null}, "x2": {"datum": 360},
                     "y": {"datum": 56, "type": "quantitative", "axis": null}}},
       {"data": {"values": [{}]}, "mark": {"type": "text", "text": "50 μV", "align": "right", "baseline": "middle", "fontSize": 18},
        "encoding": {"x": {"datum": -251, "type": "quantitative", "axis": null}, "y": {"datum": 79, "type": "quantitative", "axis": null}}},
       {"data": {"values": [{}]}, "mark": {"type": "text", "text": "0.5 s", "align": "center", "baseline": "middle", "fontSize": 18},
        "encoding": {"x": {"datum": 120, "type": "quantitative", "axis": null}, "y": {"datum": 27, "type": "quantitative", "axis": null}}}
      ]
     }
    ]
   },
   {
    "spacing": 0,
    "vconcat": [
     {"width": 122, "height": 31, "data": {"values": []}, "mark": "point", "title": {"text": "e", "dx": -59, "dy": 28}},
     {
      "width": 122, "height": 197,
      "data": {"name": "sd"},
      "resolve": {"scale": {"y": "independent"}},
      "encoding": {"x": {"field": "g", "type": "nominal", "sort": ["Wildtype","Pde1c–/–","Pde4a–/–","Pde1c–/–;Pde4a–/–"], "scale": {"paddingInner": 0, "paddingOuter": 0.43}, "axis": {"labels": false, "ticks": false, "title": null}}},
      "layer": [
       {"mark": {"type": "bar", "stroke": "#444444", "strokeWidth": 1},
        "encoding": {
          "y": {"field": "m", "type": "quantitative", "scale": {"domain": [0, 27.5], "nice": false},
                "axis": {"orient": "left", "values": [0,5,10,15,20,25], "labelOverlap": false, "labelExpr": "format(datum.value, 'd')", "tickSize": 6, "title": "Baseline SD (μV)", "titleFontSize": 22.5, "labelFontSize": 18.5, "labelPadding": 3, "titlePadding": 10}},
          "color": {"field": "g", "type": "nominal", "scale": {"domain": ["Wildtype","Pde1c–/–","Pde4a–/–","Pde1c–/–;Pde4a–/–"], "range": ["#000000","#444444","#999999","#ffffff"]},
                    "legend": {"orient": "none", "legendX": -28.5, "legendY": 269.5, "title": null, "symbolType": "M-2,-0.9H2V0.9H-2Z", "symbolSize": 144, "symbolStrokeColor": "#444444", "symbolStrokeWidth": 1, "labelFontSize": 17, "labelOffset": 7.5, "rowPadding": 2, "labelLimit": 300, "encode": {"symbols": {"update": {"stroke": {"value": "#444444"}, "strokeWidth": {"value": 1}}}, "labels": {"update": {"fontStyle": {"signal": "datum.label == 'Wildtype' ? 'normal' : 'italic'"}}}}}}
        }},
       {"mark": {"type": "rule", "color": "#000", "strokeWidth": 1.3}, "encoding": {"y": {"field": "lo", "type": "quantitative", "scale": {"domain": [0, 27.5], "nice": false}, "axis": {"orient": "left", "values": [2.5,7.5,12.5,17.5,22.5], "labels": false, "domain": false, "tickSize": 3, "title": null}}, "y2": {"field": "hi"}}},
       {"mark": {"type": "tick", "color": "#000", "size": 8, "thickness": 1.3, "orient": "horizontal"}, "encoding": {"y": {"field": "hi", "type": "quantitative", "scale": {"domain": [0, 27.5], "nice": false}, "axis": null}}},
       {"mark": {"type": "tick", "color": "#000", "size": 8, "thickness": 1.3, "orient": "horizontal"}, "encoding": {"y": {"field": "lo", "type": "quantitative", "scale": {"domain": [0, 27.5], "nice": false}, "axis": null}}},
       {"mark": {"type": "text", "fontSize": 28, "fontWeight": "bold", "baseline": "alphabetic", "dy": -6}, "encoding": {"y": {"field": "hi", "type": "quantitative", "scale": {"domain": [0, 27.5], "nice": false}, "axis": null}, "text": {"field": "sig"}}}
      ]
     }
    ]
   }
  ]
 }
]
}
